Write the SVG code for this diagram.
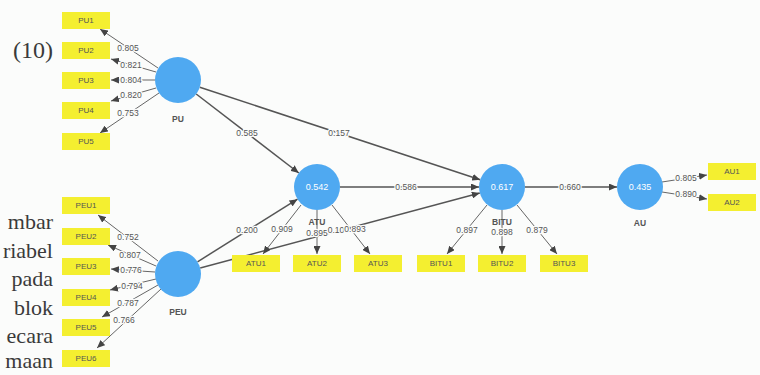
<svg xmlns="http://www.w3.org/2000/svg" width="760" height="375" viewBox="0 0 760 375">
<defs>
<style>
.bg{fill:#fbfcfb}
.box{fill:#f4ef30}
.btxt{font-family:"Liberation Sans",Arial,sans-serif;font-size:8px;fill:#555;text-anchor:middle;dominant-baseline:central}
.lv{fill:#4fa9f1}
.lvtxt{font-family:"Liberation Sans",Arial,sans-serif;font-size:9px;fill:#fff;text-anchor:middle;dominant-baseline:central}
.lvname{font-family:"Liberation Sans",Arial,sans-serif;font-size:8.5px;font-weight:bold;fill:#555;text-anchor:middle;dominant-baseline:central}
.path{stroke:#555;stroke-width:1.5;fill:none}
.load{stroke:#666;stroke-width:1;fill:none}
.lbl{font-family:"Liberation Sans",Arial,sans-serif;font-size:8.5px;fill:#555;text-anchor:middle;dominant-baseline:central;stroke:#fbfcfb;stroke-width:2.5;paint-order:stroke;stroke-linejoin:round}
.serif{font-family:"Liberation Serif","Times New Roman",serif;fill:#3a3a3a;text-anchor:end}
</style>
<marker id="ah" markerWidth="8" markerHeight="7" refX="8" refY="3.5" orient="auto" markerUnits="userSpaceOnUse">
<path d="M0,0 L8,3.5 L0,7 z" fill="#444"/>
</marker>
</defs>
<rect class="bg" x="0" y="0" width="760" height="375"/>
<g id="page-text">
<text class="serif" x="53" y="58" font-size="24">(10)</text>
<text class="serif" x="53" y="229" font-size="22">mbar</text>
<text class="serif" x="53" y="258" font-size="22">riabel</text>
<text class="serif" x="53" y="286" font-size="22">pada</text>
<text class="serif" x="53" y="315" font-size="22">blok</text>
<text class="serif" x="53" y="343" font-size="22">ecara</text>
<text class="serif" x="53" y="368" font-size="22">maan</text>
</g>
<g id="connectors">
<line class="path" x1="196.2" y1="94" x2="298.8" y2="173" marker-end="url(#ah)"/>
<line class="path" x1="199.8" y1="87.2" x2="480.2" y2="179.8" marker-end="url(#ah)"/>
<line class="path" x1="197.5" y1="261.8" x2="297.5" y2="199.2" marker-end="url(#ah)"/>
<line class="path" x1="200.2" y1="268" x2="479.8" y2="193" marker-end="url(#ah)"/>
<line class="path" x1="340" y1="187" x2="479" y2="187" marker-end="url(#ah)"/>
<line class="path" x1="525" y1="187" x2="617" y2="187" marker-end="url(#ah)"/>
<line class="load" x1="158" y1="68" x2="100" y2="29" marker-end="url(#ah)"/>
<line class="load" x1="156" y1="72" x2="111" y2="59" marker-end="url(#ah)"/>
<line class="load" x1="155" y1="80" x2="111" y2="80" marker-end="url(#ah)"/>
<line class="load" x1="156" y1="88" x2="111" y2="101" marker-end="url(#ah)"/>
<line class="load" x1="159" y1="93" x2="100" y2="133" marker-end="url(#ah)"/>
<line class="load" x1="158" y1="261" x2="98" y2="215" marker-end="url(#ah)"/>
<line class="load" x1="156" y1="266" x2="108" y2="245" marker-end="url(#ah)"/>
<line class="load" x1="155" y1="272" x2="111" y2="269" marker-end="url(#ah)"/>
<line class="load" x1="156" y1="279" x2="110" y2="290" marker-end="url(#ah)"/>
<line class="load" x1="158" y1="285" x2="102" y2="317" marker-end="url(#ah)"/>
<line class="load" x1="161" y1="289" x2="97" y2="348" marker-end="url(#ah)"/>
<line class="load" x1="301" y1="205" x2="263" y2="254" marker-end="url(#ah)"/>
<line class="load" x1="317" y1="210" x2="317" y2="254" marker-end="url(#ah)"/>
<line class="load" x1="332" y1="205" x2="370" y2="254" marker-end="url(#ah)"/>
<line class="load" x1="487" y1="205" x2="447" y2="254" marker-end="url(#ah)"/>
<line class="load" x1="502" y1="210" x2="502" y2="254" marker-end="url(#ah)"/>
<line class="load" x1="517" y1="205" x2="557" y2="254" marker-end="url(#ah)"/>
<line class="load" x1="662" y1="182" x2="707" y2="175" marker-end="url(#ah)"/>
<line class="load" x1="662" y1="192" x2="707" y2="199" marker-end="url(#ah)"/>
<text class="lbl" x="247" y="133">0.585</text>
<text class="lbl" x="339" y="133">0.157</text>
<text class="lbl" x="247" y="230">0.200</text>
<text class="lbl" x="406" y="187">0.586</text>
<text class="lbl" x="570" y="187">0.660</text>
<text class="lbl" x="128" y="48">0.805</text>
<text class="lbl" x="131" y="65">0.821</text>
<text class="lbl" x="131" y="80">0.804</text>
<text class="lbl" x="131" y="95">0.820</text>
<text class="lbl" x="128" y="113">0.753</text>
<text class="lbl" x="128" y="237">0.752</text>
<text class="lbl" x="130" y="255">0.807</text>
<text class="lbl" x="131" y="270">0.776</text>
<text class="lbl" x="132" y="286">0.794</text>
<text class="lbl" x="128" y="303">0.787</text>
<text class="lbl" x="124" y="320">0.766</text>
<text class="lbl" x="282" y="229">0.909</text>
<text class="lbl" x="317" y="233">0.895</text>
<text class="lbl" x="336" y="230">0.10</text>
<text class="lbl" x="355" y="229">0.893</text>
<text class="lbl" x="467" y="230">0.897</text>
<text class="lbl" x="502" y="232">0.898</text>
<text class="lbl" x="537" y="230">0.879</text>
<text class="lbl" x="686" y="178">0.805</text>
<text class="lbl" x="686" y="194">0.890</text>
</g>
<g id="PU">
<circle class="lv" cx="178" cy="80" r="23"/>
<text class="lvname" x="178" y="119">PU</text>
</g>
<g id="PEU">
<circle class="lv" cx="178" cy="274" r="23"/>
<text class="lvname" x="178" y="312">PEU</text>
</g>
<g id="ATU">
<circle class="lv" cx="317" cy="187" r="23"/>
<text class="lvtxt" x="317" y="187">0.542</text>
<text class="lvname" x="317" y="222">ATU</text>
</g>
<g id="BITU">
<circle class="lv" cx="502" cy="187" r="23"/>
<text class="lvtxt" x="502" y="187">0.617</text>
<text class="lvname" x="502" y="222">BITU</text>
</g>
<g id="AU">
<circle class="lv" cx="640" cy="187" r="23"/>
<text class="lvtxt" x="640" y="187">0.435</text>
<text class="lvname" x="640" y="223">AU</text>
</g>
<g id="PU1"><rect class="box" x="62" y="12" width="48" height="17"/><text class="btxt" x="86" y="20.5">PU1</text></g>
<g id="PU2"><rect class="box" x="62" y="42" width="48" height="17"/><text class="btxt" x="86" y="50.5">PU2</text></g>
<g id="PU3"><rect class="box" x="62" y="72" width="48" height="17"/><text class="btxt" x="86" y="80.5">PU3</text></g>
<g id="PU4"><rect class="box" x="62" y="102" width="48" height="17"/><text class="btxt" x="86" y="110.5">PU4</text></g>
<g id="PU5"><rect class="box" x="62" y="133" width="48" height="17"/><text class="btxt" x="86" y="141.5">PU5</text></g>
<g id="PEU1"><rect class="box" x="62" y="197" width="48" height="17"/><text class="btxt" x="86" y="205.5">PEU1</text></g>
<g id="PEU2"><rect class="box" x="62" y="228" width="48" height="17"/><text class="btxt" x="86" y="236.5">PEU2</text></g>
<g id="PEU3"><rect class="box" x="62" y="258" width="48" height="17"/><text class="btxt" x="86" y="266.5">PEU3</text></g>
<g id="PEU4"><rect class="box" x="62" y="289" width="48" height="17"/><text class="btxt" x="86" y="297.5">PEU4</text></g>
<g id="PEU5"><rect class="box" x="62" y="319" width="48" height="17"/><text class="btxt" x="86" y="327.5">PEU5</text></g>
<g id="PEU6"><rect class="box" x="62" y="350" width="48" height="17"/><text class="btxt" x="86" y="358.5">PEU6</text></g>
<g id="ATU1"><rect class="box" x="232" y="255" width="48" height="17"/><text class="btxt" x="256" y="263.5">ATU1</text></g>
<g id="ATU2"><rect class="box" x="293" y="255" width="48" height="17"/><text class="btxt" x="317" y="263.5">ATU2</text></g>
<g id="ATU3"><rect class="box" x="354" y="255" width="48" height="17"/><text class="btxt" x="378" y="263.5">ATU3</text></g>
<g id="BITU1"><rect class="box" x="417" y="255" width="48" height="17"/><text class="btxt" x="441" y="263.5">BITU1</text></g>
<g id="BITU2"><rect class="box" x="478" y="255" width="48" height="17"/><text class="btxt" x="502" y="263.5">BITU2</text></g>
<g id="BITU3"><rect class="box" x="540" y="255" width="48" height="17"/><text class="btxt" x="564" y="263.5">BITU3</text></g>
<g id="AU1"><rect class="box" x="708" y="163" width="48" height="17"/><text class="btxt" x="732" y="171.5">AU1</text></g>
<g id="AU2"><rect class="box" x="708" y="194" width="48" height="17"/><text class="btxt" x="732" y="202.5">AU2</text></g>
</svg>
